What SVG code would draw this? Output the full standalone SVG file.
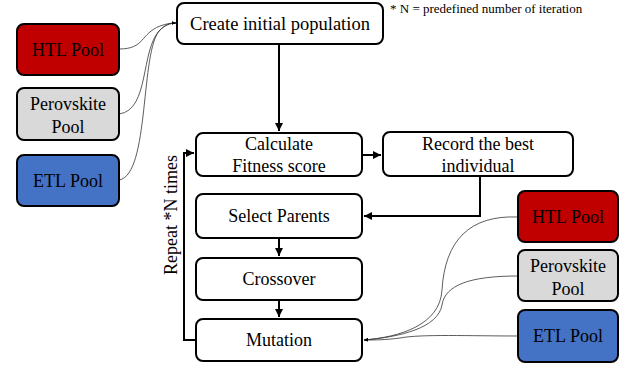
<svg xmlns="http://www.w3.org/2000/svg" width="628" height="370" viewBox="0 0 628 370">
<defs>
<marker id="ah" viewBox="0 0 10 10" refX="10" refY="5" markerWidth="4" markerHeight="4" orient="auto"><path d="M0,0 L10,5 L0,10 z" fill="#000"/></marker>
<marker id="ahs" viewBox="0 0 10 10" refX="10" refY="5" markerWidth="5" markerHeight="5" orient="auto"><path d="M0,1 L10,5 L0,9 z" fill="#000"/></marker>
</defs>
<style>
.box{fill:#fff;stroke:#000;stroke-width:2}
.red{fill:#c00000;stroke:#000;stroke-width:2}
.gray{fill:#d9d9d9;stroke:#000;stroke-width:2}
.blue{fill:#4472c4;stroke:#000;stroke-width:2}
.conn{fill:none;stroke:#000;stroke-width:2}
.curve{fill:none;stroke:#333;stroke-width:0.8}
text{font-family:'Liberation Serif','Times New Roman',serif}
</style>
<rect width="628" height="370" fill="#fff"/>
<g id="connectors">
<path class="conn" d="M279,44 V131" marker-end="url(#ah)"/>
<path class="conn" d="M362,155 H381" marker-end="url(#ah)"/>
<path class="conn" d="M480,176 V216 H364" marker-end="url(#ah)"/>
<path class="conn" d="M279,238 V256" marker-end="url(#ah)"/>
<path class="conn" d="M279,300 V317" marker-end="url(#ah)"/>
<path class="conn" d="M196,340 H184 V153 H194" marker-end="url(#ah)"/>
<path class="curve" d="M119,49 C145,49 140,34 160,26 C166,24 170,23 176,23" marker-end="url(#ahs)"/>
<path class="curve" d="M119,114 C150,110 140,50 160,30 C165,25 170,23 176,23" marker-end="url(#ahs)"/>
<path class="curve" d="M119,180 C150,175 140,50 160,30 C165,25 170,23 176,23" marker-end="url(#ahs)"/>
<path class="curve" d="M518,217 C470,215 445,240 442,290 C440,325 400,337 364,340" marker-end="url(#ahs)"/>
<path class="curve" d="M518,276 C470,276 445,285 442,305 C438,328 400,337 364,340" marker-end="url(#ahs)"/>
<path class="curve" d="M518,336 C470,336 420,334 400,338 C385,340 375,340 364,340" marker-end="url(#ahs)"/>
</g>
<g font-family="'Liberation Serif', 'Times New Roman', serif" font-size="18" text-anchor="middle" fill="#000">
<g id="htl-left"><rect class="red" x="17" y="24" width="102" height="51" rx="7"/><text x="68" y="56">HTL Pool</text></g>
<g id="perovskite-left"><rect class="gray" x="17" y="88" width="102" height="52" rx="7"/><text x="68" y="110">Perovskite</text><text x="68" y="133">Pool</text></g>
<g id="etl-left"><rect class="blue" x="17" y="155" width="102" height="51" rx="7"/><text x="68" y="187">ETL Pool</text></g>
<g id="create"><rect class="box" x="177" y="3" width="206" height="41" rx="7"/><text x="280" y="30" font-size="18.5">Create initial population</text></g>
<g id="note"><text x="390" y="13" font-size="13" text-anchor="start">* N = predefined number of iteration</text></g>
<g id="calculate"><rect class="box" x="196" y="133" width="166" height="43" rx="7"/><text x="279" y="150">Calculate</text><text x="279" y="172">Fitness  score</text></g>
<g id="record"><rect class="box" x="383" y="132" width="190" height="44" rx="7"/><text x="478" y="150">Record the best</text><text x="478" y="172">individual</text></g>
<g id="select"><rect class="box" x="196" y="194" width="166" height="44" rx="7"/><text x="279" y="222">Select Parents</text></g>
<g id="crossover"><rect class="box" x="196" y="258" width="166" height="42" rx="7"/><text x="279" y="285">Crossover</text></g>
<g id="mutation"><rect class="box" x="196" y="319" width="166" height="42" rx="7"/><text x="279" y="346">Mutation</text></g>
<g id="repeat"><text x="0" y="0" transform="translate(177,215) rotate(-90)">Repeat *N times</text></g>
<g id="htl-right"><rect class="red" x="518" y="191" width="100" height="51" rx="7"/><text x="568" y="223">HTL Pool</text></g>
<g id="perovskite-right"><rect class="gray" x="518" y="250" width="100" height="51" rx="7"/><text x="568" y="272">Perovskite</text><text x="568" y="295">Pool</text></g>
<g id="etl-right"><rect class="blue" x="518" y="310" width="100" height="52" rx="7"/><text x="568" y="342">ETL Pool</text></g>
</g>
</svg>
